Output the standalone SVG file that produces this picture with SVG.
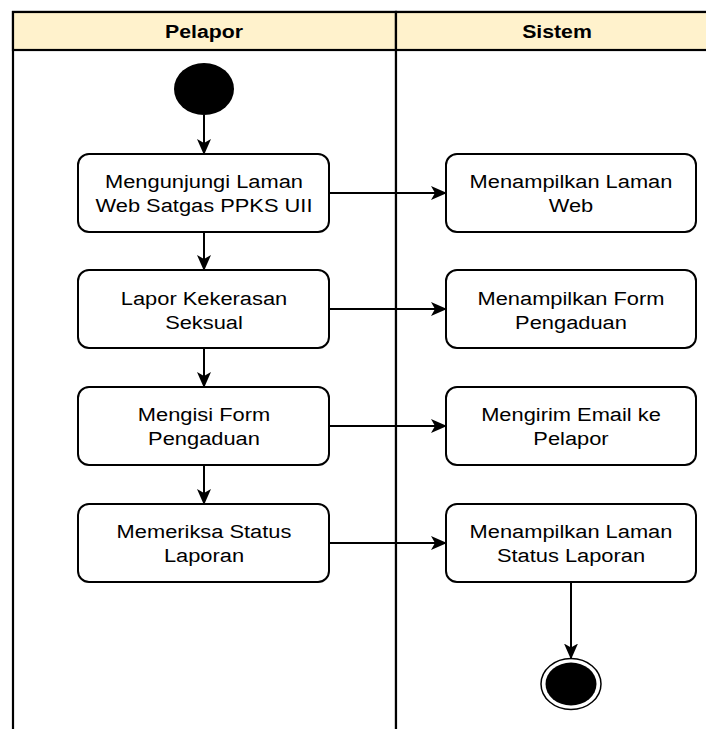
<svg xmlns="http://www.w3.org/2000/svg" width="706" height="729" viewBox="0 0 706 729">
<style>
.lane{fill:#fff;stroke:#000;stroke-width:2.2}
.hdr{fill:#fff2cc;stroke:#000;stroke-width:2.2}
.ht{font-family:"Liberation Sans",Arial,sans-serif;font-weight:bold;font-size:18.5px;text-anchor:middle;fill:#000}
.act{fill:#fff;stroke:#000;stroke-width:2}
.t{font-family:"Liberation Sans",Arial,sans-serif;font-size:19px;text-anchor:middle;fill:#000}
.c{fill:none;stroke:#000;stroke-width:2;marker-end:url(#ah)}
</style>
<defs>
<marker id="ah" viewBox="0 0 16 14" refX="15" refY="7" markerWidth="16" markerHeight="14" markerUnits="userSpaceOnUse" orient="auto">
<path d="M0,0 L16,7 L0,14 L4,7 Z" fill="#000"/>
</marker>
</defs>
<rect width="706" height="729" fill="#fff"/>
<g id="lane-pelapor">
<rect class="lane" x="13" y="12" width="383" height="730"/>
<rect class="hdr" x="13" y="12" width="383" height="38"/>
<text class="ht" transform="translate(204,38) scale(1.15,1)">Pelapor</text>
</g>
<g id="lane-sistem">
<rect class="lane" x="396" y="12" width="330" height="730"/>
<rect class="hdr" x="396" y="12" width="330" height="38"/>
<text class="ht" transform="translate(557,38) scale(1.15,1)">Sistem</text>
</g>
<g id="start">
<ellipse cx="204" cy="89" rx="30" ry="26" fill="#000"/>
</g>
<g id="a1">
<rect class="act" x="78" y="154" width="251" height="78" rx="11"/>
<text class="t" transform="translate(204,188) scale(1.15,1)">Mengunjungi Laman</text>
<text class="t" transform="translate(204,212) scale(1.15,1)">Web Satgas PPKS UII</text>
</g>
<g id="a2">
<rect class="act" x="78" y="270" width="251" height="78" rx="11"/>
<text class="t" transform="translate(204,305) scale(1.15,1)">Lapor Kekerasan</text>
<text class="t" transform="translate(204,329) scale(1.15,1)">Seksual</text>
</g>
<g id="a3">
<rect class="act" x="78" y="387" width="251" height="78" rx="11"/>
<text class="t" transform="translate(204,421) scale(1.15,1)">Mengisi Form</text>
<text class="t" transform="translate(204,445) scale(1.15,1)">Pengaduan</text>
</g>
<g id="a4">
<rect class="act" x="78" y="504" width="251" height="78" rx="11"/>
<text class="t" transform="translate(204,538) scale(1.15,1)">Memeriksa Status</text>
<text class="t" transform="translate(204,562) scale(1.15,1)">Laporan</text>
</g>
<g id="s1">
<rect class="act" x="446" y="154" width="250" height="78" rx="11"/>
<text class="t" transform="translate(571,188) scale(1.15,1)">Menampilkan Laman</text>
<text class="t" transform="translate(571,212) scale(1.15,1)">Web</text>
</g>
<g id="s2">
<rect class="act" x="446" y="270" width="250" height="78" rx="11"/>
<text class="t" transform="translate(571,305) scale(1.15,1)">Menampilkan Form</text>
<text class="t" transform="translate(571,329) scale(1.15,1)">Pengaduan</text>
</g>
<g id="s3">
<rect class="act" x="446" y="387" width="250" height="78" rx="11"/>
<text class="t" transform="translate(571,421) scale(1.15,1)">Mengirim Email ke</text>
<text class="t" transform="translate(571,445) scale(1.15,1)">Pelapor</text>
</g>
<g id="s4">
<rect class="act" x="446" y="504" width="250" height="78" rx="11"/>
<text class="t" transform="translate(571,538) scale(1.15,1)">Menampilkan Laman</text>
<text class="t" transform="translate(571,562) scale(1.15,1)">Status Laporan</text>
</g>
<g id="end">
<ellipse cx="571" cy="684" rx="30" ry="25.5" fill="#fff" stroke="#000" stroke-width="1.5"/>
<ellipse cx="571" cy="684" rx="25.5" ry="21.5" fill="#000"/>
</g>
<g id="connectors">
<path class="c" d="M204,115 L204,154"/>
<path class="c" d="M204,232 L204,270"/>
<path class="c" d="M204,348 L204,387"/>
<path class="c" d="M204,465 L204,504"/>
<path class="c" d="M329,193 L446,193"/>
<path class="c" d="M329,309 L446,309"/>
<path class="c" d="M329,426 L446,426"/>
<path class="c" d="M329,543 L446,543"/>
<path class="c" d="M571,582 L571,658.5"/>
</g>
</svg>
